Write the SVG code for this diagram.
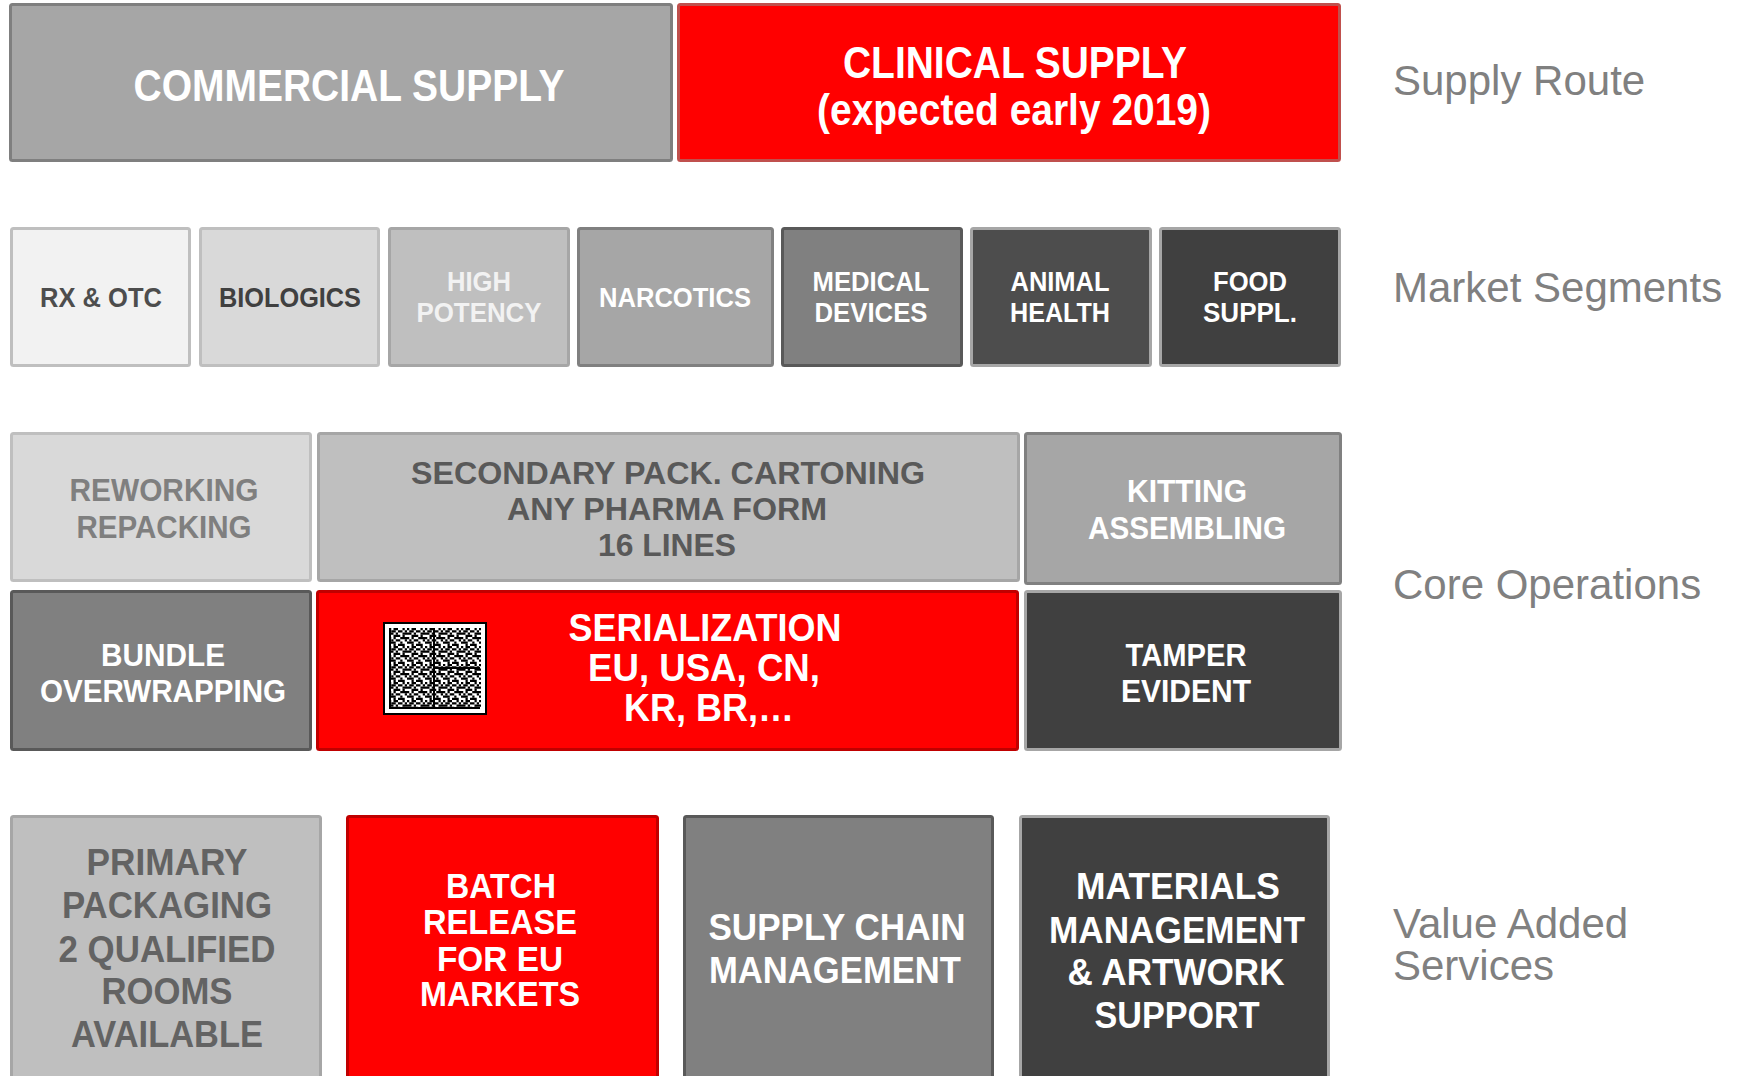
<svg xmlns="http://www.w3.org/2000/svg" width="1744" height="1076" viewBox="0 0 1744 1076">
<defs>
<style>
.b{stroke-width:3}
.t{font-family:"Liberation Sans",Arial,sans-serif;font-weight:bold;text-anchor:middle}
.w{fill:#ffffff}
.lab{font-family:"Liberation Sans",Arial,sans-serif;font-size:42px;fill:#808080}
</style>
<pattern id="dm" width="24" height="24" patternUnits="userSpaceOnUse" patternTransform="translate(389 628) scale(0.75)">
<rect width="24" height="24" fill="#fff"/>
<g fill="#000">
<rect x="0" y="0" width="3" height="3"/><rect x="6" y="0" width="6" height="3"/><rect x="18" y="0" width="3" height="3"/>
<rect x="3" y="3" width="6" height="3"/><rect x="12" y="3" width="6" height="3"/><rect x="21" y="3" width="3" height="3"/>
<rect x="0" y="6" width="6" height="3"/><rect x="9" y="6" width="3" height="3"/><rect x="18" y="6" width="6" height="3"/>
<rect x="6" y="9" width="9" height="3"/><rect x="18" y="9" width="3" height="3"/>
<rect x="0" y="12" width="3" height="3"/><rect x="6" y="12" width="3" height="3"/><rect x="15" y="12" width="9" height="3"/>
<rect x="3" y="15" width="3" height="3"/><rect x="9" y="15" width="6" height="3"/><rect x="21" y="15" width="3" height="3"/>
<rect x="0" y="18" width="9" height="3"/><rect x="15" y="18" width="3" height="3"/>
<rect x="6" y="21" width="3" height="3"/><rect x="12" y="21" width="9" height="3"/>
</g>
</pattern>
</defs>
<rect width="1744" height="1076" fill="#ffffff"/>

<g id="connectors"></g>

<!-- Row 1: Supply Route -->
<g id="commercial-supply">
<rect class="b" x="10.5" y="4.5" width="661" height="156" rx="2" fill="#a6a6a6" stroke="#7f7f7f"/>
<text class="t w" x="349" y="101" font-size="44" textLength="431" lengthAdjust="spacingAndGlyphs">COMMERCIAL SUPPLY</text>
</g>
<g id="clinical-supply">
<rect class="b" x="678.5" y="4.5" width="661" height="156" rx="2" fill="#ff0000" stroke="#c0504d"/>
<text class="t w" x="1015" y="78" font-size="44" textLength="344" lengthAdjust="spacingAndGlyphs">CLINICAL SUPPLY</text>
<text class="t w" x="1014" y="125" font-size="44" textLength="394" lengthAdjust="spacingAndGlyphs">(expected early 2019)</text>
</g>

<!-- Row 2: Market Segments -->
<g id="rx-otc">
<rect class="b" x="11.5" y="228.5" width="178" height="137" rx="2" fill="#f2f2f2" stroke="#bfbfbf"/>
<text class="t" x="101" y="307" font-size="27" fill="#4d4d4d" textLength="122" lengthAdjust="spacingAndGlyphs">RX &amp; OTC</text>
</g>
<g id="biologics">
<rect class="b" x="200.5" y="228.5" width="178" height="137" rx="2" fill="#d9d9d9" stroke="#bfbfbf"/>
<text class="t" x="290" y="307" font-size="27" fill="#404040" textLength="142" lengthAdjust="spacingAndGlyphs">BIOLOGICS</text>
</g>
<g id="high-potency">
<rect class="b" x="389.5" y="228.5" width="179" height="137" rx="2" fill="#bfbfbf" stroke="#a6a6a6"/>
<text class="t" x="479" y="291" font-size="27" fill="#f2f2f2" textLength="64" lengthAdjust="spacingAndGlyphs">HIGH</text>
<text class="t" x="479" y="322" font-size="27" fill="#f2f2f2" textLength="125" lengthAdjust="spacingAndGlyphs">POTENCY</text>
</g>
<g id="narcotics">
<rect class="b" x="578.5" y="228.5" width="194" height="137" rx="2" fill="#a6a6a6" stroke="#808080"/>
<text class="t w" x="675" y="307" font-size="27" textLength="152" lengthAdjust="spacingAndGlyphs">NARCOTICS</text>
</g>
<g id="medical-devices">
<rect class="b" x="782.5" y="228.5" width="179" height="137" rx="2" fill="#808080" stroke="#595959"/>
<text class="t w" x="871" y="291" font-size="27" textLength="117" lengthAdjust="spacingAndGlyphs">MEDICAL</text>
<text class="t w" x="871" y="322" font-size="27" textLength="113" lengthAdjust="spacingAndGlyphs">DEVICES</text>
</g>
<g id="animal-health">
<rect class="b" x="971.5" y="228.5" width="179" height="137" rx="2" fill="#4d4d4d" stroke="#a6a6a6"/>
<text class="t w" x="1060" y="291" font-size="27" textLength="99" lengthAdjust="spacingAndGlyphs">ANIMAL</text>
<text class="t w" x="1060" y="322" font-size="27" textLength="100" lengthAdjust="spacingAndGlyphs">HEALTH</text>
</g>
<g id="food-suppl">
<rect class="b" x="1160.5" y="228.5" width="179" height="137" rx="2" fill="#404040" stroke="#a6a6a6"/>
<text class="t w" x="1250" y="291" font-size="27" textLength="74" lengthAdjust="spacingAndGlyphs">FOOD</text>
<text class="t w" x="1250" y="322" font-size="27" textLength="94" lengthAdjust="spacingAndGlyphs">SUPPL.</text>
</g>

<!-- Row 3: Core Operations -->
<g id="reworking-repacking">
<rect class="b" x="11.5" y="433.5" width="299" height="147" rx="2" fill="#d9d9d9" stroke="#bfbfbf"/>
<text class="t" x="164" y="501" font-size="32" fill="#7f7f7f" textLength="189" lengthAdjust="spacingAndGlyphs">REWORKING</text>
<text class="t" x="164" y="538" font-size="32" fill="#7f7f7f" textLength="175" lengthAdjust="spacingAndGlyphs">REPACKING</text>
</g>
<g id="secondary-pack">
<rect class="b" x="318.5" y="433.5" width="700" height="147" rx="2" fill="#bfbfbf" stroke="#a6a6a6"/>
<text class="t" x="668" y="484" font-size="32" fill="#595959" textLength="514" lengthAdjust="spacingAndGlyphs">SECONDARY  PACK.  CARTONING</text>
<text class="t" x="667" y="520" font-size="32" fill="#595959" textLength="320" lengthAdjust="spacingAndGlyphs">ANY  PHARMA  FORM</text>
<text class="t" x="667" y="556" font-size="32" fill="#595959" textLength="138" lengthAdjust="spacingAndGlyphs">16 LINES</text>
</g>
<g id="kitting-assembling">
<rect class="b" x="1025.5" y="433.5" width="315" height="150" rx="2" fill="#a6a6a6" stroke="#808080"/>
<text class="t w" x="1187" y="502" font-size="32" textLength="120" lengthAdjust="spacingAndGlyphs">KITTING</text>
<text class="t w" x="1187" y="539" font-size="32" textLength="198" lengthAdjust="spacingAndGlyphs">ASSEMBLING</text>
</g>
<g id="bundle-overwrapping">
<rect class="b" x="11.5" y="591.5" width="299" height="158" rx="2" fill="#808080" stroke="#595959"/>
<text class="t w" x="163" y="666" font-size="32" textLength="124" lengthAdjust="spacingAndGlyphs">BUNDLE</text>
<text class="t w" x="163" y="702" font-size="32" textLength="246" lengthAdjust="spacingAndGlyphs">OVERWRAPPING</text>
</g>
<g id="serialization">
<rect class="b" x="317.5" y="591.5" width="700" height="158" rx="2" fill="#ff0000" stroke="#c00000"/>
<rect x="384" y="623" width="102" height="91" fill="#ffffff" stroke="#000000" stroke-width="2"/>
<rect x="389" y="628" width="92" height="81" fill="url(#dm)"/>
<g stroke="#000" stroke-width="2" fill="none">
<path d="M390 628 V708 H434 V628 M435 668 H480 M435 708 H480"/>
</g>
<text class="t w" x="705" y="641" font-size="39" textLength="273" lengthAdjust="spacingAndGlyphs">SERIALIZATION</text>
<text class="t w" x="704" y="681" font-size="39" textLength="232" lengthAdjust="spacingAndGlyphs">EU,  USA,  CN,</text>
<text class="t w" x="709" y="721" font-size="39" textLength="170" lengthAdjust="spacingAndGlyphs">KR,  BR,…</text>
</g>
<g id="tamper-evident">
<rect class="b" x="1025.5" y="591.5" width="315" height="158" rx="2" fill="#404040" stroke="#a6a6a6"/>
<text class="t w" x="1186" y="666" font-size="32" textLength="121" lengthAdjust="spacingAndGlyphs">TAMPER</text>
<text class="t w" x="1186" y="702" font-size="32" textLength="130" lengthAdjust="spacingAndGlyphs">EVIDENT</text>
</g>

<!-- Row 4: Value Added Services -->
<g id="primary-packaging">
<rect class="b" x="11.5" y="816.5" width="309" height="280" rx="2" fill="#bfbfbf" stroke="#a6a6a6"/>
<text class="t" x="167" y="875" font-size="37" fill="#636363" textLength="161" lengthAdjust="spacingAndGlyphs">PRIMARY</text>
<text class="t" x="167" y="918" font-size="37" fill="#636363" textLength="210" lengthAdjust="spacingAndGlyphs">PACKAGING</text>
<text class="t" x="167" y="962" font-size="37" fill="#636363" textLength="217" lengthAdjust="spacingAndGlyphs">2 QUALIFIED</text>
<text class="t" x="167" y="1004" font-size="37" fill="#636363" textLength="131" lengthAdjust="spacingAndGlyphs">ROOMS</text>
<text class="t" x="167" y="1047" font-size="37" fill="#636363" textLength="192" lengthAdjust="spacingAndGlyphs">AVAILABLE</text>
</g>
<g id="batch-release">
<rect class="b" x="347.5" y="816.5" width="310" height="280" rx="2" fill="#ff0000" stroke="#c00000"/>
<text class="t w" x="501" y="898" font-size="35" textLength="110" lengthAdjust="spacingAndGlyphs">BATCH</text>
<text class="t w" x="500" y="934" font-size="35" textLength="154" lengthAdjust="spacingAndGlyphs">RELEASE</text>
<text class="t w" x="500" y="971" font-size="35" textLength="126" lengthAdjust="spacingAndGlyphs">FOR EU</text>
<text class="t w" x="500" y="1006" font-size="35" textLength="160" lengthAdjust="spacingAndGlyphs">MARKETS</text>
</g>
<g id="supply-chain-management">
<rect class="b" x="684.5" y="816.5" width="308" height="280" rx="2" fill="#808080" stroke="#595959"/>
<text class="t w" x="837" y="940" font-size="37" textLength="257" lengthAdjust="spacingAndGlyphs">SUPPLY  CHAIN</text>
<text class="t w" x="835" y="983" font-size="37" textLength="252" lengthAdjust="spacingAndGlyphs">MANAGEMENT</text>
</g>
<g id="materials-management">
<rect class="b" x="1020.5" y="816.5" width="308" height="280" rx="2" fill="#404040" stroke="#a6a6a6"/>
<text class="t w" x="1178" y="899" font-size="37" textLength="204" lengthAdjust="spacingAndGlyphs">MATERIALS</text>
<text class="t w" x="1177" y="943" font-size="37" textLength="256" lengthAdjust="spacingAndGlyphs">MANAGEMENT</text>
<text class="t w" x="1176" y="985" font-size="37" textLength="217" lengthAdjust="spacingAndGlyphs">&amp; ARTWORK</text>
<text class="t w" x="1177" y="1028" font-size="37" textLength="165" lengthAdjust="spacingAndGlyphs">SUPPORT</text>
</g>

<!-- Row labels -->
<g id="labels">
<text class="lab" x="1393" y="95">Supply Route</text>
<text class="lab" x="1393" y="302">Market Segments</text>
<text class="lab" x="1393" y="599">Core Operations</text>
<text class="lab" x="1393" y="938">Value Added</text>
<text class="lab" x="1393" y="980">Services</text>
</g>
</svg>
